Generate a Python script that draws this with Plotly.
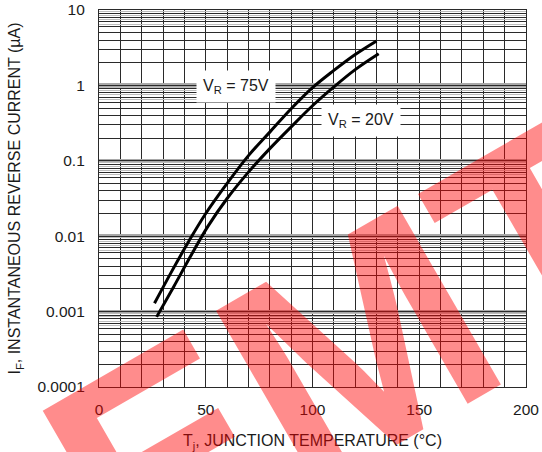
import plotly.graph_objects as go

# ---- data ----
t_75 = [26, 34, 42, 50, 60, 70, 80, 90, 100, 110, 120, 130]
ir_75 = [0.00129, 0.00339, 0.00851, 0.0200, 0.0501, 0.117, 0.240, 0.490, 0.933, 1.58, 2.57, 3.89]
t_20 = [27, 35, 43, 51, 60, 70, 80, 90, 100, 110, 120, 131]
ir_20 = [0.000851, 0.00214, 0.00550, 0.0135, 0.0316, 0.0708, 0.145, 0.282, 0.537, 0.955, 1.62, 2.63]

x_ticks = [0, 50, 100, 150, 200]
y_ticks = [0.0001, 0.001, 0.01, 0.1, 1, 10]
y_tick_text = ["0.0001", "0.001", "0.01", "0.1", "1", "10"]
decades = [0.0001, 0.001, 0.01, 0.1, 1]
half_steps = [6.5, 7.5, 8.5, 9.5]
gray_lines = [d * h for d in decades for h in half_steps]

FONT = "Liberation Sans, Arial, sans-serif"
TXT = "#1a1a1a"

fig = go.Figure()

fig.add_trace(go.Scatter(x=t_75, y=ir_75, mode="lines", line=dict(color="black", width=3, shape="spline"),
                         hoverinfo="skip", showlegend=False))
fig.add_trace(go.Scatter(x=t_20, y=ir_20, mode="lines", line=dict(color="black", width=3, shape="spline"),
                         hoverinfo="skip", showlegend=False))
# carriers for the extra grid axes
fig.add_trace(go.Scatter(x=t_75, y=ir_75, yaxis="y2", mode="lines", line=dict(width=0), opacity=0,
                         hoverinfo="skip", showlegend=False))
fig.add_trace(go.Scatter(x=t_75, y=ir_75, yaxis="y3", mode="lines", line=dict(width=0), opacity=0,
                         hoverinfo="skip", showlegend=False))

fig.update_layout(
    width=542, height=452,
    margin=dict(l=99, r=16, t=10, b=65),
    paper_bgcolor="white", plot_bgcolor="white",
    font=dict(family=FONT, size=15.5, color=TXT),
    xaxis=dict(
        range=[0, 200], tickvals=x_ticks, showgrid=True, gridcolor="#2a2a2a", gridwidth=1.2,
        minor=dict(dtick=10, showgrid=True, gridcolor="#2a2a2a", gridwidth=1.2),
        zeroline=False, showline=True, linecolor="#2a2a2a", linewidth=1.2, mirror=True,
        ticks="", ticklabelstandoff=8, automargin=False,
        title=dict(text="T<sub>j</sub>, JUNCTION TEMPERATURE (°C)", font=dict(size=16, color=TXT), standoff=18),
    ),
    yaxis=dict(
        type="log", range=[-4, 1], tickvals=y_ticks, ticktext=y_tick_text,
        showgrid=True, gridcolor="#a8a8a8", gridwidth=3.5,
        minor=dict(dtick="D1", showgrid=True, gridcolor="#2a2a2a", gridwidth=1.2),
        zeroline=False, showline=True, linecolor="#2a2a2a", linewidth=1.2, mirror=True,
        ticks="", ticklabelstandoff=10, automargin=False,
        title=dict(text="I<sub>F</sub>, INSTANTANEOUS REVERSE CURRENT (µA)", font=dict(size=16, color=TXT), standoff=12),
    ),
    yaxis2=dict(
        type="log", range=[-4, 1], overlaying="y", tickvals=gray_lines, showticklabels=False,
        showgrid=True, gridcolor="#bdbdbd", gridwidth=1, zeroline=False, showline=False, ticks="",
        automargin=False,
    ),
    yaxis3=dict(
        type="log", range=[-4, 1], overlaying="y", tickvals=decades, showticklabels=False,
        showgrid=True, gridcolor="#2a2a2a", gridwidth=1, zeroline=False, showline=False, ticks="",
        automargin=False,
    ),
    showlegend=False,
)

fig.add_annotation(x=64.2, y=-0.02, xref="x", yref="y", text="V<sub>R</sub> = 75V", showarrow=False,
                   bgcolor="white", borderpad=6, font=dict(family=FONT, size=16, color=TXT))
fig.add_annotation(x=122.7, y=-0.472, xref="x", yref="y", text="V<sub>R</sub> = 20V", showarrow=False,
                   bgcolor="white", borderpad=6, font=dict(family=FONT, size=16, color=TXT))

# watermark
fig.add_annotation(x=0.590, y=-0.717, xref="paper", yref="paper", text="<b>EMT</b>", showarrow=False,
                   textangle=-30, font=dict(family=FONT, size=300, color="rgba(255,0,0,0.45)"))

fig.write_html("out.html", config={"displayModeBar": False},
               post_script="document.body.style.margin='0';document.body.style.padding='0';")
